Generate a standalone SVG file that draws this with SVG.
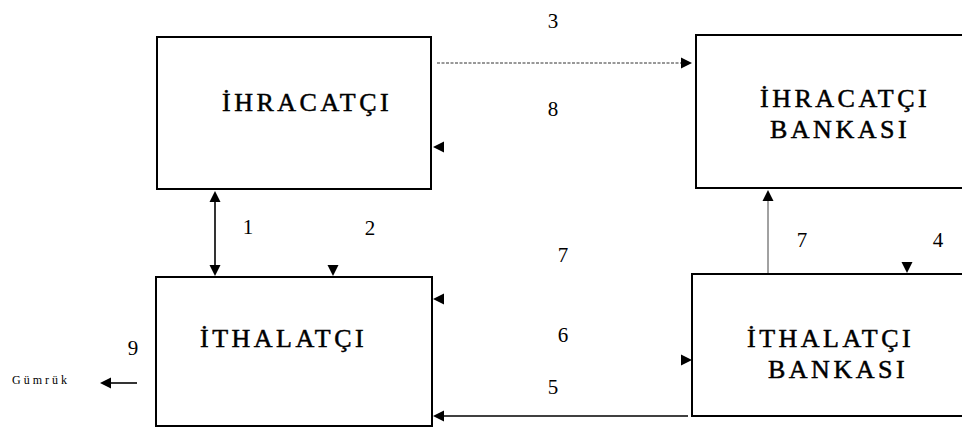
<svg xmlns="http://www.w3.org/2000/svg" width="962" height="432" viewBox="0 0 962 432">
  <style>
    .box { fill: #fff; stroke: #000; stroke-width: 2; }
    .name { font-size: 26px; letter-spacing: 3.5px; fill: #000; stroke: #000; stroke-width: 0.5; }
    .num { font-size: 21px; fill: #000; text-anchor: middle; }
    .small { font-size: 12px; letter-spacing: 3px; fill: #000; }
    .line { stroke: #000; stroke-width: 1.6; fill: none; }
    .thin { stroke: #444; stroke-width: 1; fill: none; }
    .dotted { stroke: #333; stroke-width: 1; stroke-dasharray: 3 1.5; fill: none; }
  </style>
  <defs>
    <!-- arrowhead with its tip at the origin, pointing right -->
    <path id="ah" d="M0,0 L-11,-5.5 L-11,5.5 Z" fill="#000"/>
  </defs>

  <rect width="962" height="432" fill="#fff"/>

  <g font-family="Liberation Serif, Times New Roman, serif">
  <g id="ihracatci">
    <rect class="box" x="157" y="37" width="274" height="152"/>
    <text class="name" x="222" y="111">İHRACATÇI</text>
  </g>

  <g id="ihracatci-bankasi">
    <rect class="box" x="696" y="35" width="290" height="153"/>
    <text class="name" x="760" y="107">İHRACATÇI</text>
    <text class="name" x="770" y="138">BANKASI</text>
  </g>

  <g id="ithalatci">
    <rect class="box" x="156" y="277" width="276" height="149"/>
    <text class="name" x="200" y="347">İTHALATÇI</text>
  </g>

  <g id="ithalatci-bankasi">
    <rect class="box" x="692" y="274" width="290" height="142"/>
    <text class="name" x="747" y="347">İTHALATÇI</text>
    <text class="name" x="768" y="378">BANKASI</text>
  </g>

  <g id="gumruk">
    <text class="small" x="12" y="384">Gümrük</text>
  </g>

  <g id="connectors">
    <!-- 1: two-way link between exporter and importer -->
    <line class="line" x1="215" y1="196" x2="215" y2="271"/>
    <use href="#ah" transform="translate(215,191) rotate(-90)"/>
    <use href="#ah" transform="translate(215,276) rotate(90)"/>
    <!-- 2 -->
    <use href="#ah" transform="translate(333,276) rotate(90)"/>
    <!-- 3: exporter to exporter's bank -->
    <line class="dotted" x1="437" y1="63" x2="683" y2="63"/>
    <use href="#ah" transform="translate(692,63)"/>
    <!-- 8 -->
    <use href="#ah" transform="translate(433,147) rotate(180)"/>
    <!-- 7 (into importer) -->
    <use href="#ah" transform="translate(433,299) rotate(180)"/>
    <!-- 6 -->
    <use href="#ah" transform="translate(692,360)"/>
    <!-- 5: importer's bank to importer -->
    <line class="line" x1="688" y1="416" x2="440" y2="416"/>
    <use href="#ah" transform="translate(433,416) rotate(180)"/>
    <!-- 7: importer's bank to exporter's bank -->
    <line class="thin" x1="768" y1="273" x2="768" y2="196"/>
    <use href="#ah" transform="translate(768,190) rotate(-90)"/>
    <!-- 4 -->
    <use href="#ah" transform="translate(907,273) rotate(90)"/>
    <!-- 9: importer to customs -->
    <line class="line" x1="137" y1="383" x2="108" y2="383"/>
    <use href="#ah" transform="translate(100,383) rotate(180)"/>

    <text class="num" x="248" y="234">1</text>
    <text class="num" x="370" y="235">2</text>
    <text class="num" x="553" y="28">3</text>
    <text class="num" x="553" y="116">8</text>
    <text class="num" x="563" y="262">7</text>
    <text class="num" x="563" y="342">6</text>
    <text class="num" x="553" y="394">5</text>
    <text class="num" x="802" y="247">7</text>
    <text class="num" x="938" y="247">4</text>
    <text class="num" x="133" y="355">9</text>
  </g>
  </g>
</svg>
